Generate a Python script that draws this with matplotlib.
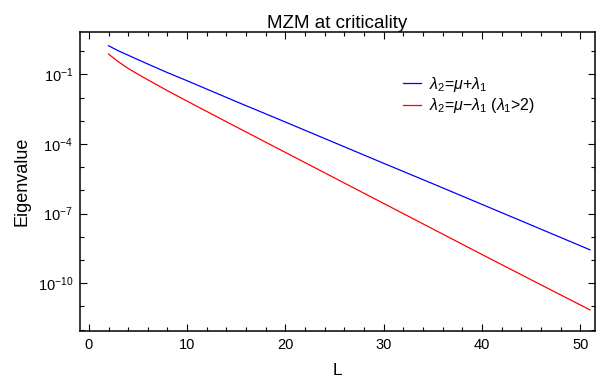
import matplotlib
matplotlib.use("Agg")
import matplotlib.pyplot as plt
import numpy as np
from matplotlib.ticker import FixedLocator, MultipleLocator, LogFormatterMathtext

plt.rcParams['font.family'] = ['Liberation Sans', 'DejaVu Sans']
plt.rcParams['mathtext.fontset'] = 'custom'
plt.rcParams['mathtext.rm'] = 'Liberation Sans'
plt.rcParams['mathtext.it'] = 'Liberation Sans:italic'
plt.rcParams['mathtext.bf'] = 'Liberation Sans:bold'

# data (log10 of eigenvalue)
L_vals = [2, 3, 4, 5, 6, 8, 10, 15, 20, 25, 30, 35, 40, 45, 51]
log_plus = [0.24, 0.02, -0.17, -0.36, -0.55, -0.92, -1.27, -2.17, -3.05,
            -3.94, -4.83, -5.71, -6.60, -7.49, -8.56]
log_minus = [-0.12, -0.45, -0.74, -0.99, -1.23, -1.70, -2.15, -3.26, -4.36,
             -5.46, -6.56, -7.66, -8.76, -9.85, -11.15]

label_plus = r'$\lambda_2$=$\mu$+$\lambda_1$'
label_minus = r'$\lambda_2$=$\mu$$-$$\lambda_1$ ($\lambda_1$>2)'

fig = plt.figure(figsize=(6.04, 3.77), dpi=100)
ax = fig.add_axes([0.1325, 0.122, 0.8525, 0.793])

ax.plot(L_vals, 10.0 ** np.array(log_plus), color='#0000ff', lw=0.9, label=label_plus)
ax.plot(L_vals, 10.0 ** np.array(log_minus), color='#ff0000', lw=0.9, label=label_minus)

ax.set_yscale('log')
ax.set_xlim(-0.9, 51.5)
ax.set_ylim(10 ** -12.06, 10 ** 0.83)

ax.xaxis.set_major_locator(MultipleLocator(10))
ax.xaxis.set_minor_locator(MultipleLocator(2))
ax.yaxis.set_major_locator(FixedLocator([1e-1, 1e-4, 1e-7, 1e-10]))
ax.yaxis.set_minor_locator(FixedLocator([10.0 ** k for k in range(-12, 1)]))
ax.yaxis.set_major_formatter(LogFormatterMathtext())
ax.yaxis.set_minor_formatter(plt.NullFormatter())

ax.tick_params(which='both', direction='in', top=True, right=True, labelsize=10.5, width=0.8)
ax.tick_params(which='major', length=5, pad=5)
ax.tick_params(which='minor', length=3)
for sp in ax.spines.values():
    sp.set_linewidth(1.1)

ax.set_title('MZM at criticality', fontsize=13.5, pad=3)
ax.set_xlabel('L', fontsize=12.5, labelpad=8)
ax.set_ylabel('Eigenvalue', fontsize=13, labelpad=5)

ax.legend(loc='upper left', bbox_to_anchor=(0.6, 0.905), frameon=False, fontsize=11.5,
          handlelength=1.1, handletextpad=0.5, labelspacing=0.15)

fig.savefig('out.png', dpi=100)
